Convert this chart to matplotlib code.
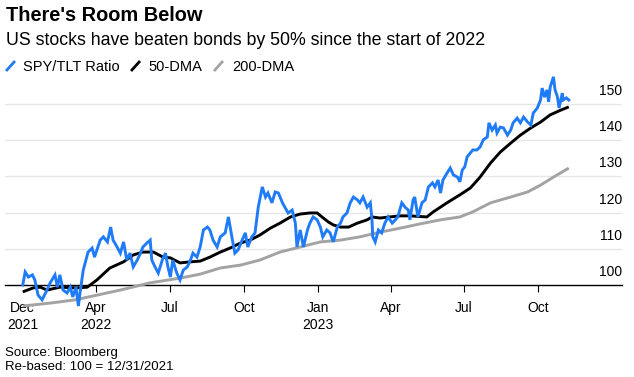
#!/usr/bin/env python3
"""SPY/TLT ratio vs its 50- and 200-day moving averages (Bloomberg style)."""
import pandas as pd
import matplotlib
matplotlib.use('Agg')
import matplotlib.pyplot as plt
from matplotlib.lines import Line2D

plt.rcParams['font.family'] = ['Liberation Sans', 'DejaVu Sans']

# values; x = calendar days since the rebase date
rebase_date = '2021-12-31'

ratio_days = [0, 3, 7, 12, 15, 19, 24, 30, 34, 40, 43, 46, 50, 55, 59, 62, 66, 69, 71, 75,
              81, 86, 89, 92, 96, 100, 105, 109, 112, 117, 121, 125, 129, 133, 137, 142, 146, 149, 154, 158,
              160, 164, 168, 173, 177, 180, 183, 186, 191, 195, 199, 204, 208, 211, 216, 220, 224, 229, 232, 236,
              241, 245, 251, 255, 260, 263, 267, 272, 276, 279, 284, 288, 292, 297, 301, 304, 309, 313, 317, 322,
              325, 329, 334, 338, 340, 344, 348, 353, 356, 360, 365, 369, 372, 377, 381, 385, 390, 394, 397, 402,
              406, 410, 415, 418, 422, 427, 431, 433, 434, 437, 441, 445, 449, 453, 458, 462, 465, 470, 474, 478,
              480, 484, 486, 490, 495, 499, 503, 508, 511, 515, 518, 521, 526, 530, 534, 539, 542, 545, 548, 551,
              555, 558, 563, 567, 571, 576, 578, 582, 586, 588, 592, 596, 601, 605, 608, 613, 617, 621, 626, 630,
              633, 638, 642, 644, 647, 650, 652, 654, 658, 660, 663, 665, 669, 670, 674, 677]
ratio_vals = [100.0, 103.6, 102.2, 102.8, 101.4, 97.2, 95.9, 98.6, 100.6, 102.8, 99.4, 102.8, 98.6, 97.8, 99.4, 96.7, 99.4, 94.2, 97.8, 104.1,
              109.1, 110.2, 107.7, 109.7, 112.4, 113.3, 111.9, 116.0, 112.4, 110.5, 108.8, 111.9, 106.9, 108.8, 105.0, 106.9, 108.8, 110.5, 111.6, 112.4,
              106.9, 105.0, 103.3, 106.9, 108.8, 105.0, 102.2, 106.9, 103.3, 101.4, 104.1, 105.0, 106.9, 108.8, 107.7, 110.5, 115.2, 116.0, 115.2, 112.4,
              110.5, 113.3, 114.4, 118.8, 112.4, 108.8, 109.7, 112.4, 114.4, 110.5, 113.3, 114.4, 121.5, 127.1, 124.3, 125.4, 122.7, 125.7, 125.4, 122.7,
              121.5, 119.9, 120.7, 117.1, 110.5, 115.2, 110.5, 115.2, 117.1, 118.8, 118.0, 116.0, 113.3, 115.2, 114.4, 111.9, 116.0, 117.1, 118.8, 119.9,
              122.7, 124.3, 123.5, 122.7, 124.3, 121.5, 122.7, 118.0, 113.3, 111.9, 115.2, 114.4, 117.1, 118.8, 117.1, 118.0, 118.8, 122.7, 121.5, 120.7,
              118.0, 123.5, 124.3, 118.8, 122.7, 123.5, 127.1, 128.2, 127.1, 129.0, 125.4, 129.0, 130.9, 132.3, 130.4, 129.8, 128.5, 131.8, 132.6, 135.4,
              136.5, 137.3, 137.3, 138.1, 140.1, 140.9, 144.8, 142.8, 144.2, 142.0, 143.6, 143.4, 141.4, 142.8, 144.8, 146.1, 144.8, 146.4, 145.0, 144.2,
              147.5, 148.9, 151.1, 154.4, 151.9, 153.9, 150.6, 154.7, 157.5, 153.9, 151.9, 148.9, 153.0, 151.1, 151.7, 151.1]

dma50_days = [0, 13, 22, 30, 46, 67, 80, 92, 108, 125, 137, 149, 162, 174, 183, 195, 208, 220, 232, 245,
              257, 270, 282, 294, 307, 319, 332, 344, 356, 365, 371, 379, 385, 394, 404, 415, 427, 433, 443, 455,
              468, 480, 501, 509, 526, 542, 555, 567, 580, 592, 605, 617, 630, 642, 654, 667, 677]
dma50_vals = [98.1, 99.2, 99.4, 98.6, 99.4, 99.2, 99.4, 101.4, 104.7, 106.4, 108.3, 109.1, 109.1, 107.7, 107.5, 106.1, 106.4, 106.6, 107.7, 109.1,
              110.2, 111.6, 112.4, 113.8, 115.7, 117.1, 118.8, 119.6, 119.9, 119.9, 118.8, 117.4, 116.6, 116.0, 116.0, 117.1, 118.0, 118.8, 118.5, 118.8,
              119.1, 119.1, 118.8, 120.2, 122.7, 124.9, 126.8, 129.8, 133.7, 136.7, 139.2, 141.4, 143.4, 145.0, 147.0, 148.3, 149.2]

dma200_days = [0, 34, 65, 92, 121, 158, 195, 220, 245, 270, 294, 319, 344, 369, 394, 418, 443, 468, 493, 518,
               542, 558, 580, 605, 626, 642, 658, 677]
dma200_vals = [94.2, 95.0, 95.9, 97.2, 98.6, 100.6, 101.9, 103.0, 104.7, 105.5, 106.9, 109.1, 110.5, 111.9, 112.4, 113.3, 114.6, 115.7, 116.9, 118.0,
               118.8, 120.2, 122.7, 124.3, 125.7, 127.6, 129.8, 132.3]

tick_dates = ['2021-12-31', '2022-04-01', '2022-07-01', '2022-10-01',
              '2023-01-01', '2023-04-01', '2023-07-01', '2023-10-01']
tick_labels = ['Dec\n2021', 'Apr\n2022', 'Jul', 'Oct', 'Jan\n2023', 'Apr', 'Jul', 'Oct']
y_levels = [100, 110, 120, 130, 140, 150]

BLUE = '#1f7cf6'
BLACK = '#000000'
GRAY = '#a3a3a3'
W, H = 634, 377


def to_dates(days):
    return pd.Timestamp(rebase_date) + pd.to_timedelta(days, unit='D')


def fx(px):
    return px / W


def fy(py):
    return 1 - py / H


fig = plt.figure(figsize=(W / 100, H / 100), dpi=100)
ax = fig.add_axes([fx(5), fy(285), (622 - 5) / W, (285 - 67.8) / H])

for v in y_levels[1:]:
    ax.axhline(v, color='#e6e6e6', lw=0.9, zorder=1)

ax.plot(to_dates(dma200_days), dma200_vals, color=GRAY, lw=2.1, zorder=3, clip_on=False,
        solid_capstyle='butt')
ax.plot(to_dates(dma50_days), dma50_vals, color=BLACK, lw=2.1, zorder=3.1, clip_on=False,
        solid_capstyle='butt')
ax.plot(to_dates(ratio_days), ratio_vals, color=BLUE, lw=2.1, zorder=3.2, clip_on=False,
        solid_joinstyle='miter')

ax.set_ylim(100, 160)
ax.set_xlim(pd.Timestamp('2021-12-09'), pd.Timestamp('2024-01-13'))

for s in ['top', 'left', 'right']:
    ax.spines[s].set_visible(False)
ax.spines['bottom'].set_color('black')
ax.spines['bottom'].set_linewidth(1.0)
ax.set_facecolor('none')

ax.set_yticks([])
ax.set_xticks(pd.to_datetime(tick_dates))
ax.set_xticklabels(tick_labels, fontsize=10, linespacing=1.25)
ax.tick_params(axis='x', length=5, width=0.8, color='black', pad=6.5)
ax.xaxis.get_major_ticks()[0].tick1line.set_visible(False)

# right-hand value labels sit just above their gridline
for v in y_levels:
    ax.annotate(str(v), xy=(1, v), xycoords=('axes fraction', 'data'),
                xytext=(0, 9.4), textcoords='offset points',
                ha='right', va='center', fontsize=10, annotation_clip=False)

fig.text(fx(6), fy(21), "There's Room Below", fontsize=14.4, fontweight='bold', va='baseline')
fig.text(fx(6), fy(45), 'US stocks have beaten bonds by 50% since the start of 2022',
         fontsize=12.8, va='baseline')

# legend: slanted line swatches + labels
legend = [('SPY/TLT Ratio', BLUE, 6, 23), ('50-DMA', BLACK, 131, 148), ('200-DMA', GRAY, 214, 232)]
for label, col, x0, tx in legend:
    fig.add_artist(Line2D([fx(x0), fx(x0 + 9)], [fy(71), fy(61)], color=col, lw=2.0,
                          solid_capstyle='butt'))
    fig.text(fx(tx), fy(71), label, fontsize=10.5, va='baseline')

fig.text(fx(5), fy(356), 'Source: Bloomberg', fontsize=9.5, va='baseline')
fig.text(fx(5), fy(370.5), 'Re-based: 100 = 12/31/2021', fontsize=9.5, va='baseline')

fig.savefig('out.png', dpi=100)
